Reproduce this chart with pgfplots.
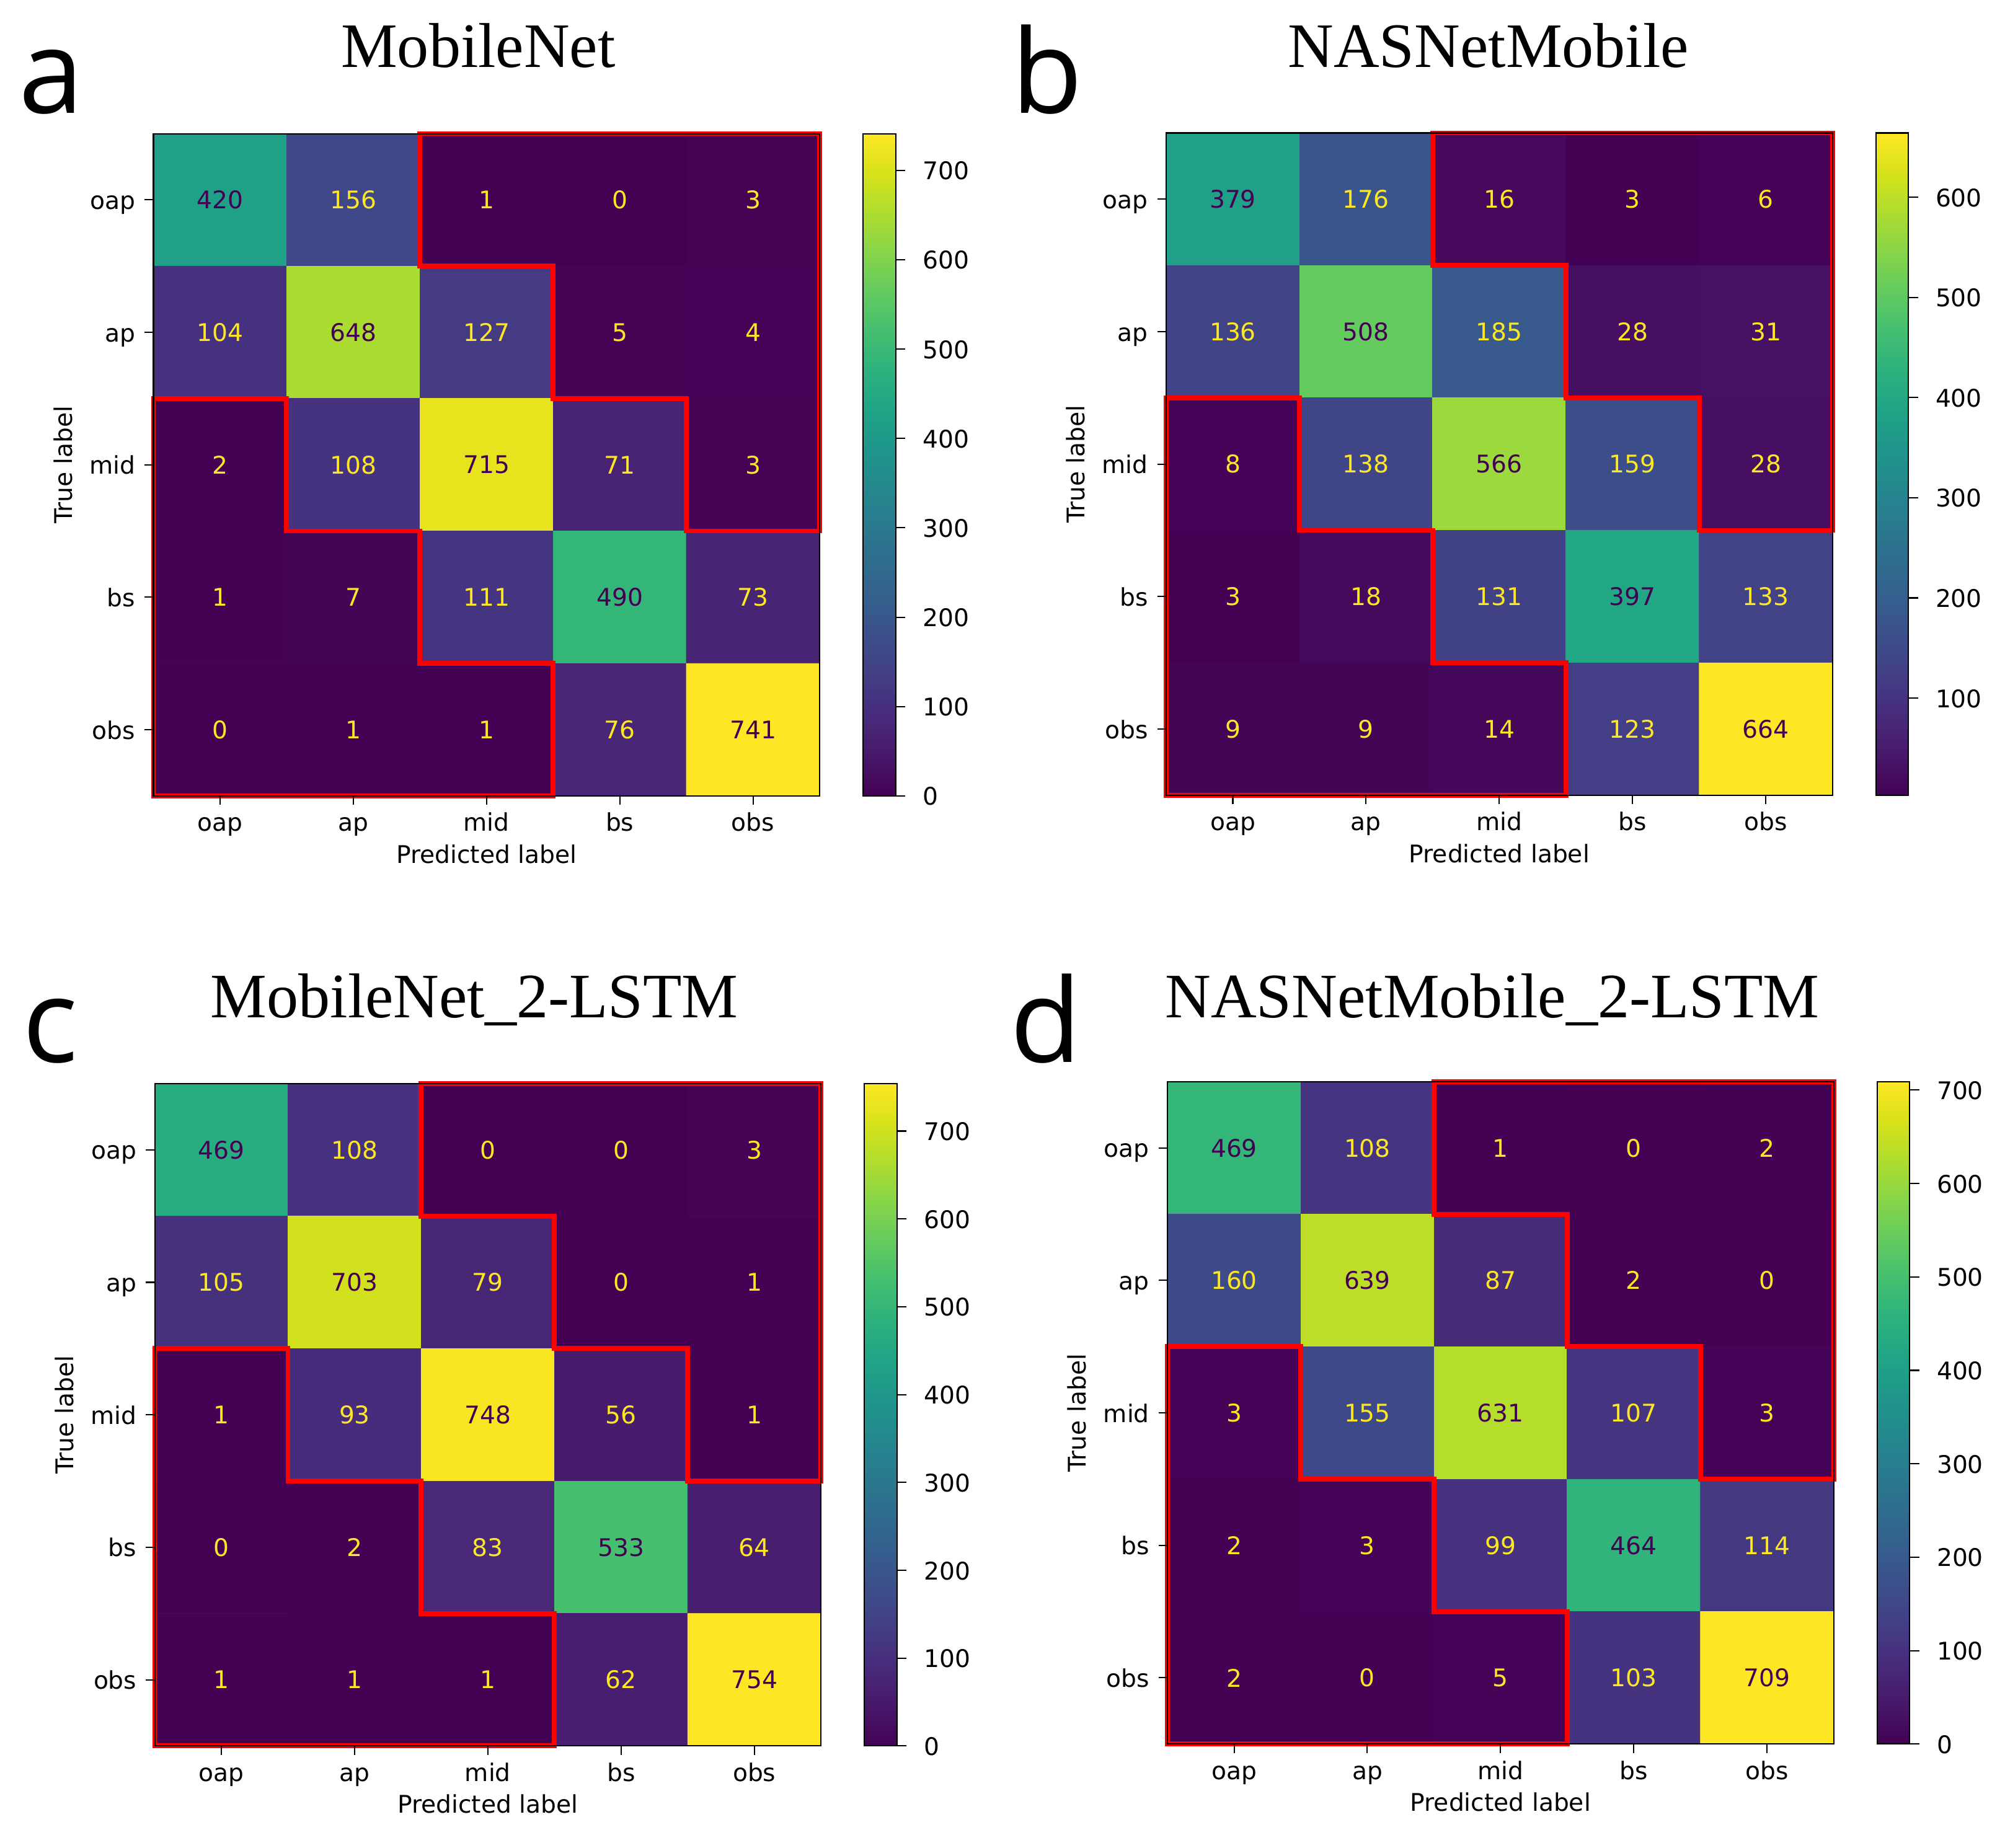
\documentclass[border=0pt]{standalone}
\usepackage{pgfplots}
\pgfplotsset{compat=1.18}
\usepackage{pgfplotstable}
\usepackage{fontspec}
\setmainfont{DejaVu Sans}
\newfontfamily\titlefont{Liberation Serif}
\newfontfamily\letterfont{Open Sans}
\newcommand\mpl{\fontsize{19}{22}\selectfont}
\definecolor{lt}{HTML}{FDE725}
\definecolor{dk}{HTML}{440154}

% t = 1: dark text (value above half the colour range), t = 0: yellow text
\pgfplotstableread{
x y v t
0 0 420 1
1 0 156 0
2 0 1 0
3 0 0 0
4 0 3 0
0 1 104 0
1 1 648 1
2 1 127 0
3 1 5 0
4 1 4 0
0 2 2 0
1 2 108 0
2 2 715 1
3 2 71 0
4 2 3 0
0 3 1 0
1 3 7 0
2 3 111 0
3 3 490 1
4 3 73 0
0 4 0 0
1 4 1 0
2 4 1 0
3 4 76 0
4 4 741 1
}\dataA

\pgfplotstableread{
x y v t
0 0 379 1
1 0 176 0
2 0 16 0
3 0 3 0
4 0 6 0
0 1 136 0
1 1 508 1
2 1 185 0
3 1 28 0
4 1 31 0
0 2 8 0
1 2 138 0
2 2 566 1
3 2 159 0
4 2 28 0
0 3 3 0
1 3 18 0
2 3 131 0
3 3 397 1
4 3 133 0
0 4 9 0
1 4 9 0
2 4 14 0
3 4 123 0
4 4 664 1
}\dataB

\pgfplotstableread{
x y v t
0 0 469 1
1 0 108 0
2 0 0 0
3 0 0 0
4 0 3 0
0 1 105 0
1 1 703 1
2 1 79 0
3 1 0 0
4 1 1 0
0 2 1 0
1 2 93 0
2 2 748 1
3 2 56 0
4 2 1 0
0 3 0 0
1 3 2 0
2 3 83 0
3 3 533 1
4 3 64 0
0 4 1 0
1 4 1 0
2 4 1 0
3 4 62 0
4 4 754 1
}\dataC

\pgfplotstableread{
x y v t
0 0 469 1
1 0 108 0
2 0 1 0
3 0 0 0
4 0 2 0
0 1 160 0
1 1 639 1
2 1 87 0
3 1 2 0
4 1 0 0
0 2 3 0
1 2 155 0
2 2 631 1
3 2 107 0
4 2 3 0
0 3 2 0
1 3 3 0
2 3 99 0
3 3 464 1
4 3 114 0
0 4 2 0
1 4 0 0
2 4 5 0
3 4 103 0
4 4 709 1
}\dataD

\pgfplotsset{
  cm/.style={
    anchor=north west,
    scale only axis, width=521pt, height=518pt,
    xmin=-0.5, xmax=4.5, ymin=-0.5, ymax=4.5, y dir=reverse,
    enlargelimits=false,
    xtick={0,1,2,3,4}, ytick={0,1,2,3,4},
    xticklabels={oap,ap,mid,bs,obs}, yticklabels={oap,ap,mid,bs,obs},
    tick align=outside, major tick length=7pt,
    xtick pos=bottom, ytick pos=left,
    tick style={black, line width=1pt},
    axis line style={black, line width=1pt},
    /pgf/number format/assume math mode=true,
    tick label style={font=\mpl, inner sep=0pt},
    xticklabel style={anchor=base, yshift=-20.5pt},
    yticklabel style={anchor=base east, xshift=-7pt, yshift=-7.3pt},
    xlabel={Predicted label}, ylabel={True label},
    label style={font=\mpl, inner sep=0pt},
    xlabel style={at={(axis description cs:0.5,-0.1012)}, anchor=base},
    ylabel style={at={(axis description cs:-0.1221,0.5)}, anchor=base},
    colormap/viridis,
    colorbar,
    colorbar/width=25.5pt,
    colorbar shift/.style={xshift=34pt},
    colorbar style={
      at={(parent axis.north east)}, anchor=north west,
      scale only axis, width=25.5pt, height=518pt,
      tick align=outside, major tick length=7.5pt,
      ytick pos=right,
      tick style={black, line width=1pt},
      axis line style={black, line width=1pt},
      /pgf/number format/assume math mode=true,
      yticklabel style={font=\mpl, inner sep=0pt, anchor=base west, xshift=13.5pt, yshift=-7.3pt},
    },
    clip=false, axis on top,
  },
  cmtext/.style={
    draw=none, mark=none,
    nodes near coords={\ifdim\tc pt>0.5pt\relax\textcolor{dk}{\pgfplotspointmeta}\else\textcolor{lt}{\pgfplotspointmeta}\fi},
    nodes near coords align={center},
    every node near coord/.append style={font=\mpl, inner sep=0pt, anchor=center},
    point meta=explicit symbolic,
    visualization depends on={\thisrow{t} \as \tc},
  },
  redline/.style={red, line width=3.8pt, line join=miter, mark=none},
}

\begin{document}
\begin{tikzpicture}
\path[use as bounding box] (0pt,0pt) rectangle (1568pt,-1445pt);

% panel a
\begin{axis}[cm, at={(120pt,-104.5pt)}, point meta min=0, point meta max=741,
  colorbar style={ytick={0,100,...,700}}]
\addplot[matrix plot*, mesh/cols=5, point meta=explicit] table[x=x, y=y, meta=v]{\dataA};
\addplot[cmtext] table[x=x, y=y, meta=v]{\dataA};
\addplot[redline] coordinates {(1.5,-0.5) (4.5,-0.5) (4.5,2.5) (3.5,2.5) (3.5,1.5) (2.5,1.5) (2.5,0.5) (1.5,0.5)} -- cycle;
\addplot[redline] coordinates {(-0.5,1.5) (0.5,1.5) (0.5,2.5) (1.5,2.5) (1.5,3.5) (2.5,3.5) (2.5,4.5) (-0.5,4.5)} -- cycle;
\end{axis}

% panel b
\begin{axis}[cm, at={(912pt,-104pt)}, point meta min=3, point meta max=664,
  colorbar style={ytick={100,200,...,600}}]
\addplot[matrix plot*, mesh/cols=5, point meta=explicit] table[x=x, y=y, meta=v]{\dataB};
\addplot[cmtext] table[x=x, y=y, meta=v]{\dataB};
\addplot[redline] coordinates {(1.5,-0.5) (4.5,-0.5) (4.5,2.5) (3.5,2.5) (3.5,1.5) (2.5,1.5) (2.5,0.5) (1.5,0.5)} -- cycle;
\addplot[redline] coordinates {(-0.5,1.5) (0.5,1.5) (0.5,2.5) (1.5,2.5) (1.5,3.5) (2.5,3.5) (2.5,4.5) (-0.5,4.5)} -- cycle;
\end{axis}

% panel c
\begin{axis}[cm, at={(121pt,-847.5pt)}, point meta min=0, point meta max=754,
  colorbar style={ytick={0,100,...,700}}]
\addplot[matrix plot*, mesh/cols=5, point meta=explicit] table[x=x, y=y, meta=v]{\dataC};
\addplot[cmtext] table[x=x, y=y, meta=v]{\dataC};
\addplot[redline] coordinates {(1.5,-0.5) (4.5,-0.5) (4.5,2.5) (3.5,2.5) (3.5,1.5) (2.5,1.5) (2.5,0.5) (1.5,0.5)} -- cycle;
\addplot[redline] coordinates {(-0.5,1.5) (0.5,1.5) (0.5,2.5) (1.5,2.5) (1.5,3.5) (2.5,3.5) (2.5,4.5) (-0.5,4.5)} -- cycle;
\end{axis}

% panel d
\begin{axis}[cm, at={(913pt,-846pt)}, point meta min=0, point meta max=709,
  colorbar style={ytick={0,100,...,700}}]
\addplot[matrix plot*, mesh/cols=5, point meta=explicit] table[x=x, y=y, meta=v]{\dataD};
\addplot[cmtext] table[x=x, y=y, meta=v]{\dataD};
\addplot[redline] coordinates {(1.5,-0.5) (4.5,-0.5) (4.5,2.5) (3.5,2.5) (3.5,1.5) (2.5,1.5) (2.5,0.5) (1.5,0.5)} -- cycle;
\addplot[redline] coordinates {(-0.5,1.5) (0.5,1.5) (0.5,2.5) (1.5,2.5) (1.5,3.5) (2.5,3.5) (2.5,4.5) (-0.5,4.5)} -- cycle;
\end{axis}

% titles
\node[font=\titlefont\fontsize{49.5}{55}\selectfont, anchor=base, inner sep=0pt] at (374pt,-52.5pt) {MobileNet};
\node[font=\titlefont\fontsize{49.5}{55}\selectfont, anchor=base, inner sep=0pt] at (1164pt,-52.5pt) {NASNetMobile};
\node[font=\titlefont\fontsize{49.5}{55}\selectfont, anchor=base, inner sep=0pt] at (371pt,-796pt) {MobileNet\_2-LSTM};
\node[font=\titlefont\fontsize{49.5}{55}\selectfont, anchor=base, inner sep=0pt] at (1167pt,-796pt) {NASNetMobile\_2-LSTM};
% panel letters
\node[font=\letterfont\fontsize{91}{100}\selectfont, anchor=base west, inner sep=0pt] at (14.7pt,-88.7pt) {a};
\node[font=\letterfont\fontsize{91}{100}\selectfont, anchor=base west, inner sep=0pt] at (790.7pt,-88.7pt) {b};
\node[font=\letterfont\fontsize{91}{100}\selectfont, anchor=base west, inner sep=0pt] at (17.5pt,-831pt) {c};
\node[font=\letterfont\fontsize{91}{100}\selectfont, anchor=base west, inner sep=0pt] at (790pt,-831pt) {d};
\end{tikzpicture}
\end{document}
